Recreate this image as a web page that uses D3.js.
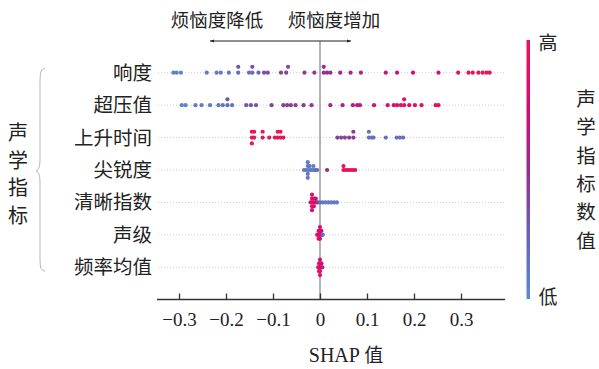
<!DOCTYPE html>
<html>
<head>
<meta charset="utf-8">
<script src="https://cdn.jsdelivr.net/npm/d3@7"></script>
<style>
  body { margin: 0; background: #fff; }
  text { fill: #222; }
</style>
</head>
<body>
<svg id="svg" width="599" height="369"></svg>
<script>
// features, top to bottom
const features = ["响度", "超压值", "上升时间", "尖锐度", "清晰指数", "声级", "频率均值"];

// SHAP values and normalised feature value (0 = low, 1 = high) per feature
const loudnessShap = [-0.312, -0.305, -0.296, -0.241, -0.220, -0.211, -0.194, -0.174, -0.174, -0.151, -0.144, -0.144, -0.131,
  -0.119, -0.111, -0.083, -0.072, -0.068, -0.033, -0.012, 0.008, 0.008, 0.015, 0.022, 0.043, 0.065, 0.087, 0.140, 0.164,
  0.198, 0.252, 0.294, 0.316, 0.325, 0.337, 0.346, 0.354, 0.361];
const loudnessVal = [0.05, 0.05, 0.05, 0.08, 0.1, 0.1, 0.12, 0.15, 0.3, 0.15, 0.18, 0.3, 0.2,
  0.35, 0.35, 0.4, 0.4, 0.35, 0.45, 0.45, 0.5, 0.5, 0.5, 0.5, 0.55, 0.55, 0.6, 0.65, 0.7,
  0.7, 0.85, 0.9, 0.95, 0.95, 0.95, 1, 1, 1];

const overpressureShap = [-0.294, -0.286, -0.265, -0.252, -0.234, -0.216, -0.207, -0.197, -0.197, -0.187, -0.157, -0.147,
  -0.136, -0.103, -0.078, -0.070, -0.062, -0.052, -0.035, -0.018, 0.022, 0.048, 0.070, 0.079, 0.085, 0.115, 0.144,
  0.157, 0.164, 0.172, 0.179, 0.179, 0.190, 0.202, 0.216, 0.246, 0.252];
const overpressureVal = [0.05, 0.05, 0.08, 0.08, 0.1, 0.1, 0.12, 0.15, 0.3, 0.12, 0.3, 0.3,
  0.3, 0.4, 0.4, 0.42, 0.42, 0.42, 0.45, 0.45, 0.55, 0.6, 0.65, 0.65, 0.65, 0.8, 0.85,
  0.85, 0.85, 0.9, 0.9, 0.95, 0.9, 0.9, 0.9, 0.95, 0.95];

const riseTimeShap = [-0.145, -0.145, -0.145, -0.140, -0.140, -0.122, -0.122, -0.108, -0.096, -0.090, -0.090, -0.084,
  -0.084, -0.078, 0.037, 0.045, 0.053, 0.062, 0.071, 0.071, 0.104, 0.104, 0.110, 0.114, 0.140, 0.163, 0.170, 0.177];
const riseTimeVal = [1, 1, 1, 1, 1, 1, 1, 1, 1, 1, 1, 1,
  1, 1, 0.4, 0.4, 0.4, 0.45, 0.45, 0.45, 0.15, 0.15, 0.15, 0.15, 0.15, 0.15, 0.15, 0.15];

const sharpnessShap = [-0.034, -0.030, -0.026, -0.026, -0.026, -0.026, -0.026, -0.022, -0.022, -0.018, -0.014, -0.014,
  -0.010, -0.006, 0.015, 0.050, 0.050, 0.055, 0.060, 0.065, 0.070, 0.075];
const sharpnessVal = [0.1, 0.1, 0.1, 0.1, 0.12, 0.1, 0.1, 0.1, 0.12, 0.12, 0.1, 0.1,
  0.15, 0.2, 0.5, 0.95, 0.95, 0.95, 0.95, 0.95, 0.95, 0.95];

const clarityShap = [-0.020, -0.017, -0.017, -0.017, -0.017, -0.017, -0.013, -0.013, -0.013, -0.009, -0.009, -0.005,
  0.000, 0.006, 0.012, 0.018, 0.024, 0.030, 0.036];
const clarityVal = [0.9, 0.95, 0.95, 0.9, 0.9, 0.85, 0.85, 0.9, 0.85, 0.6, 0.7, 0.5,
  0.15, 0.12, 0.1, 0.1, 0.1, 0.1, 0.1];

const levelShap = [-0.006, -0.003, -0.003, -0.003, 0.000, 0.000, 0.000, 0.000, 0.003, 0.003, 0.006];
const levelVal = [0.9, 0.9, 0.85, 0.9, 0.85, 0.9, 0.85, 0.8, 0.7, 0.75, 0.15];

const freqShap = [-0.004, -0.002, -0.002, -0.002, 0.000, 0.000, 0.000, 0.000, 0.000, 0.003, 0.003, 0.005];
const freqVal = [0.9, 0.95, 0.9, 0.95, 0.9, 0.85, 0.95, 0.9, 0.85, 0.7, 0.75, 0.6];

const shapByFeature = [loudnessShap, overpressureShap, riseTimeShap, sharpnessShap, clarityShap, levelShap, freqShap];
const valByFeature = [loudnessVal, overpressureVal, riseTimeVal, sharpnessVal, clarityVal, levelVal, freqVal];

const xTicks = [-0.3, -0.2, -0.1, 0, 0.1, 0.2, 0.3];

const cjk = "'Noto Sans CJK SC', 'Noto Sans CJK JP', sans-serif";
const serif = "'Liberation Serif', 'DejaVu Serif', serif";

const svg = d3.select("#svg");

const x = d3.scaleLinear().domain([-0.3, 0.3]).range([179, 461]);
const y = d3.scalePoint().domain(features).range([72.7, 267.3]);
const rowStep = y.step();

const color = d3.scaleLinear()
  .domain([0, 0.25, 0.5, 0.75, 1])
  .range(["#5b8bd0", "#6a62b2", "#9a2c8c", "#d20c78", "#ea1459"])
  .interpolate(d3.interpolateRgb);

// dotted row guides
svg.append("g")
  .selectAll("line")
  .data(features)
  .enter()
  .append("line")
  .attr("x1", 158)
  .attr("x2", 505)
  .attr("y1", (d) => y(d))
  .attr("y2", (d) => y(d))
  .attr("stroke", "#cfcfcf")
  .attr("stroke-width", 1)
  .attr("stroke-dasharray", "1,2");

// zero line
svg.append("line")
  .attr("x1", x(0)).attr("x2", x(0))
  .attr("y1", 41).attr("y2", 299)
  .attr("stroke", "#9a9a9a")
  .attr("stroke-width", 1.5);

// beeswarm layout, same idea as shap's summary plot
const points = [];
features.forEach((f, fi) => {
  const shaps = shapByFeature[fi];
  const vals = valByFeature[fi];
  const nbins = 100;
  const lo = d3.min(shaps), hi = d3.max(shaps);
  const quant = shaps.map((s) => Math.round(nbins * (s - lo) / (hi - lo + 1e-8)));
  const order = d3.range(shaps.length).sort((a, b) => quant[a] - quant[b] || a - b);
  const ys = new Array(shaps.length).fill(0);
  let layer = 0, lastBin = -1;
  order.forEach((i) => {
    if (quant[i] !== lastBin) layer = 0;
    ys[i] = Math.ceil(layer / 2) * ((layer % 2) * 2 - 1);
    layer += 1;
    lastBin = quant[i];
  });
  const scale = 0.9 * (0.4 / d3.max(ys, (v) => v + 1)) * rowStep;
  shaps.forEach((s, i) => {
    points.push({ feature: f, shap: s, val: vals[i], off: -ys[i] * scale });
  });
});

svg.append("g")
  .selectAll("circle")
  .data(points)
  .enter()
  .append("circle")
  .attr("cx", (d) => x(d.shap))
  .attr("cy", (d) => y(d.feature) + d.off)
  .attr("r", 2.1)
  .attr("fill", (d) => color(d.val));

// row labels
svg.append("g")
  .selectAll("text")
  .data(features)
  .enter()
  .append("text")
  .attr("x", 152)
  .attr("y", (d) => y(d))
  .attr("dy", "0.36em")
  .attr("text-anchor", "end")
  .style("font-family", cjk)
  .style("font-size", "19.5px")
  .text((d) => d);

// x axis
const xAxis = svg.append("g")
  .attr("transform", "translate(0,299.5)")
  .call(d3.axisBottom(x).tickValues(xTicks).tickSize(-6).tickPadding(13)
    .tickFormat((d) => (d === 0 ? "0" : d3.format(".1f")(d))));
xAxis.select(".domain").attr("d", "M157,0H505").attr("stroke", "#333").attr("stroke-width", 1.3);
xAxis.selectAll(".tick line").attr("stroke", "#333").attr("stroke-width", 1.3);
xAxis.selectAll(".tick text")
  .attr("fill", "#222")
  .style("font-family", serif)
  .style("font-size", "19px");

const xt = svg.append("text")
  .attr("x", 346)
  .attr("y", 362)
  .attr("text-anchor", "middle");
xt.append("tspan").style("font-family", serif).style("font-size", "20px").text("SHAP ");
xt.append("tspan").style("font-family", cjk).style("font-size", "19px").text("值");

// direction arrows
const defs = svg.append("defs");
defs.append("marker")
  .attr("id", "arrowhead")
  .attr("viewBox", "0 -5 10 10")
  .attr("refX", 10)
  .attr("refY", 0)
  .attr("orient", "auto-start-reverse")
  .attr("markerWidth", 6)
  .attr("markerHeight", 4)
  .append("path")
  .attr("d", "M0,-4L10,0L0,4Z")
  .attr("fill", "#222");

svg.append("line")
  .attr("x1", 210).attr("x2", 351)
  .attr("y1", 41).attr("y2", 41)
  .attr("stroke", "#222")
  .attr("stroke-width", 1)
  .attr("marker-start", "url(#arrowhead)")
  .attr("marker-end", "url(#arrowhead)");

svg.append("text")
  .attr("x", 217).attr("y", 27)
  .attr("text-anchor", "middle")
  .style("font-family", cjk).style("font-size", "18.5px")
  .text("烦恼度降低");
svg.append("text")
  .attr("x", 334).attr("y", 27)
  .attr("text-anchor", "middle")
  .style("font-family", cjk).style("font-size", "18.5px")
  .text("烦恼度增加");

// left group label with brace
svg.append("path")
  .attr("d", "M45,68 C40,69 40,74 40,88 L40,158 C40,166 39,170 36,171 C39,172 40,176 40,184 L40,254 C40,267 40,270 45,271")
  .attr("fill", "none")
  .attr("stroke", "#b5b5b5")
  .attr("stroke-width", 1);

svg.append("g")
  .selectAll("text")
  .data(["声", "学", "指", "标"])
  .enter()
  .append("text")
  .attr("x", 18)
  .attr("y", (d, i) => 133 + i * 27.5)
  .attr("dy", "0.36em")
  .attr("text-anchor", "middle")
  .style("font-family", cjk)
  .style("font-size", "20px")
  .text((d) => d);

// colour bar
const grad = defs.append("linearGradient")
  .attr("id", "cbar")
  .attr("x1", 0).attr("y1", 1)
  .attr("x2", 0).attr("y2", 0);
grad.selectAll("stop")
  .data(color.domain())
  .enter()
  .append("stop")
  .attr("offset", (d) => d)
  .attr("stop-color", (d) => color(d));

svg.append("rect")
  .attr("x", 526.5)
  .attr("y", 40)
  .attr("width", 3.5)
  .attr("height", 259)
  .attr("fill", "url(#cbar)");

svg.append("text")
  .attr("x", 548).attr("y", 43)
  .attr("dy", "0.36em")
  .attr("text-anchor", "middle")
  .style("font-family", cjk).style("font-size", "19px")
  .text("高");
svg.append("text")
  .attr("x", 548).attr("y", 297)
  .attr("dy", "0.36em")
  .attr("text-anchor", "middle")
  .style("font-family", cjk).style("font-size", "19px")
  .text("低");

svg.append("g")
  .selectAll("text")
  .data(["声", "学", "指", "标", "数", "值"])
  .enter()
  .append("text")
  .attr("x", 586)
  .attr("y", (d, i) => 99 + i * 28.3)
  .attr("dy", "0.36em")
  .attr("text-anchor", "middle")
  .style("font-family", cjk)
  .style("font-size", "19.5px")
  .text((d) => d);
</script>
</body>
</html>
